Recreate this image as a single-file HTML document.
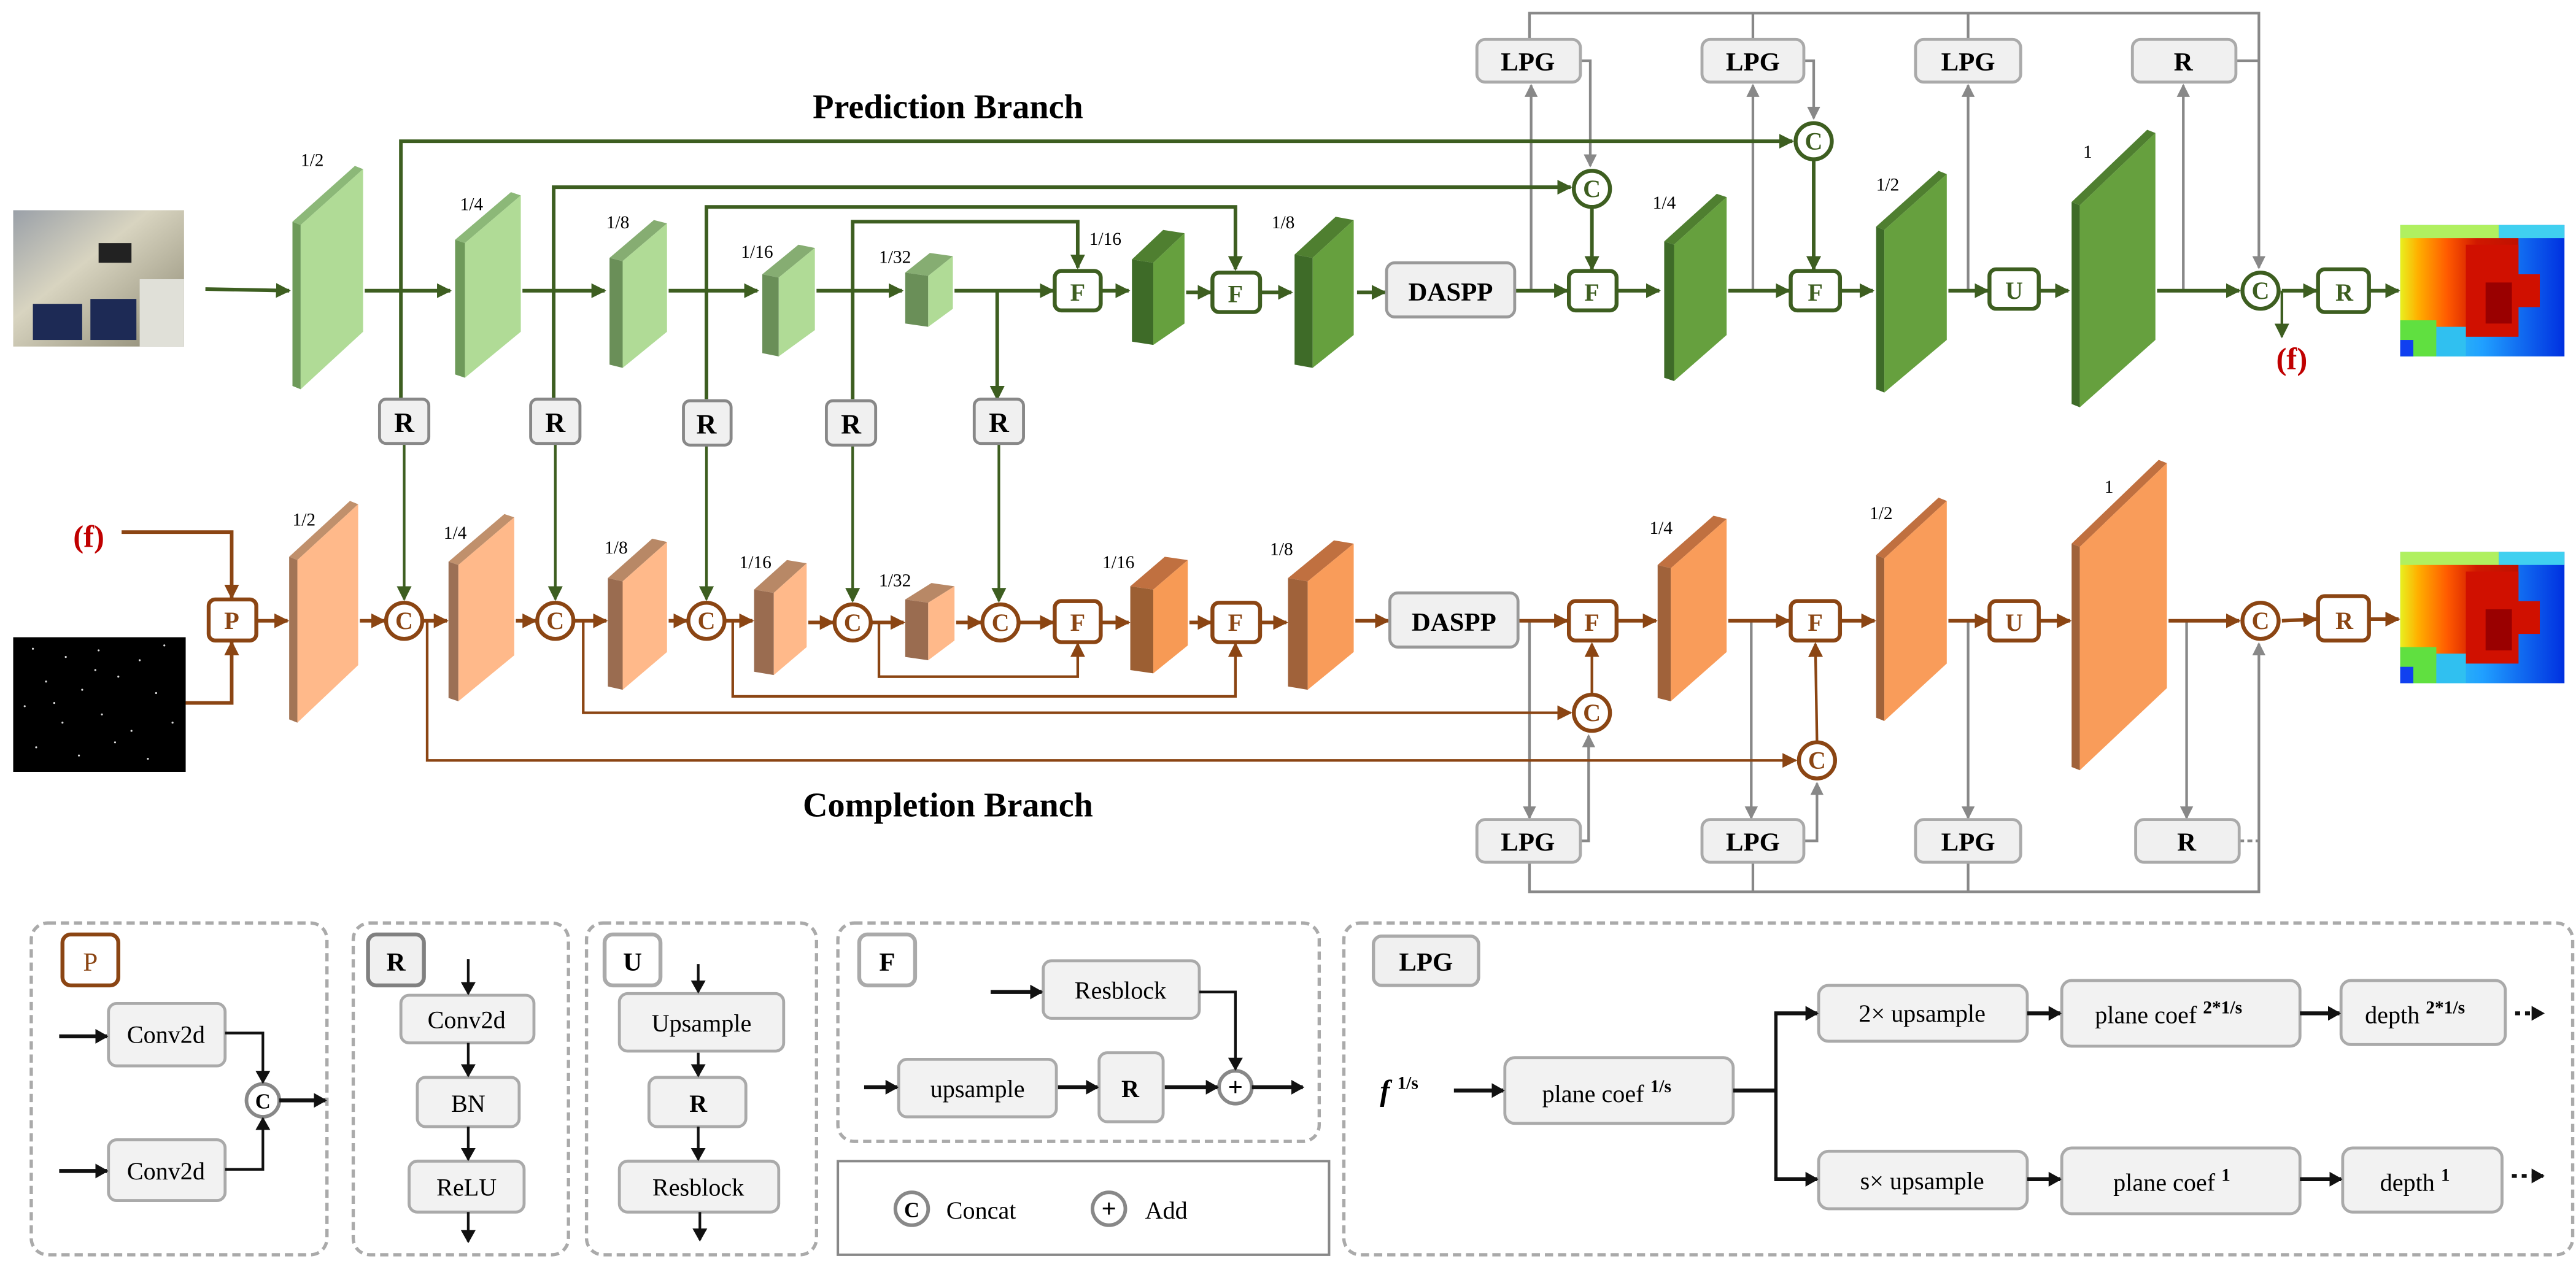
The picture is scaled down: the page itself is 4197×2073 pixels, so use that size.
<!DOCTYPE html>
<html><head><meta charset="utf-8"><style>html,body{margin:0;padding:0;background:#fff}svg{display:block}</style></head><body>
<svg width="4197" height="2073" viewBox="0 0 1568 774.5" xmlns="http://www.w3.org/2000/svg" font-family="Liberation Serif, serif">
<defs>
<marker id="ag" markerWidth="9" markerHeight="9" refX="8" refY="4.5" orient="auto" markerUnits="userSpaceOnUse"><path d="M0,0 L9,4.5 L0,9 z" fill="#3d5e20"/></marker>
<marker id="ab" markerWidth="9" markerHeight="9" refX="8" refY="4.5" orient="auto" markerUnits="userSpaceOnUse"><path d="M0,0 L9,4.5 L0,9 z" fill="#8b4513"/></marker>
<marker id="ay" markerWidth="8" markerHeight="8" refX="7" refY="4" orient="auto" markerUnits="userSpaceOnUse"><path d="M0,0 L8,4 L0,8 z" fill="#888"/></marker>
<marker id="ak" markerWidth="8" markerHeight="9" refX="7" refY="4.5" orient="auto" markerUnits="userSpaceOnUse"><path d="M0,0 L8,4.5 L0,9 z" fill="#111"/></marker>
<linearGradient id="dep" x1="0" x2="1" y1="0" y2="0"><stop offset="0" stop-color="#e8f020"/><stop offset="0.15" stop-color="#ffb000"/><stop offset="0.4" stop-color="#ff5a00"/><stop offset="0.65" stop-color="#d01800"/><stop offset="1" stop-color="#c01000"/></linearGradient>
<linearGradient id="depr" x1="0" x2="1" y1="0" y2="0"><stop offset="0" stop-color="#40e0e0"/><stop offset="0.5" stop-color="#20a0ff"/><stop offset="1" stop-color="#0030e0"/></linearGradient>
<linearGradient id="room" x1="0" x2="1" y1="0" y2="1"><stop offset="0" stop-color="#9aa0a8"/><stop offset="0.4" stop-color="#d8d4c0"/><stop offset="1" stop-color="#8a8670"/></linearGradient>
<g id="depth">
<rect x="0" y="0" width="100" height="80" fill="url(#depr)"/>
<rect x="0" y="6" width="72" height="62" fill="url(#dep)"/>
<rect x="0" y="0" width="60" height="8" fill="#b0f060"/>
<rect x="60" y="0" width="40" height="8" fill="#40d0f0"/>
<polygon points="40,12 72,12 72,30 85,30 85,50 72,50 72,68 40,68" fill="#d01000"/>
<rect x="52" y="35" width="16" height="25" fill="#9a0000"/>
<rect x="0" y="58" width="22" height="22" fill="#60e040"/>
<rect x="0" y="70" width="8" height="10" fill="#1040f0"/>
<rect x="22" y="62" width="18" height="18" fill="#30c0f0"/>
</g>
</defs>

<text x="577" y="72" font-size="21" font-weight="bold" text-anchor="middle">Prediction Branch</text>
<text x="577" y="497" font-size="21" font-weight="bold" text-anchor="middle">Completion Branch</text>

<rect x="8" y="128" width="104" height="83" fill="url(#room)"/>
<rect x="60" y="148" width="20" height="12" fill="#222"/>
<rect x="20" y="185" width="30" height="22" fill="#1d2a55"/>
<rect x="55" y="182" width="28" height="25" fill="#1d2a55"/>
<rect x="85" y="170" width="27" height="41" fill="#e0e0d8"/>
<rect x="8" y="388" width="105" height="82" fill="#000"/>
<g fill="#ddd">
<circle cx="20" cy="395" r="0.6"/><circle cx="40" cy="400" r="0.6"/><circle cx="60" cy="396" r="0.6"/><circle cx="85" cy="402" r="0.6"/><circle cx="100" cy="393" r="0.6"/>
<circle cx="28" cy="415" r="0.6"/><circle cx="50" cy="420" r="0.6"/><circle cx="72" cy="412" r="0.6"/><circle cx="95" cy="422" r="0.6"/><circle cx="15" cy="430" r="0.6"/>
<circle cx="38" cy="440" r="0.6"/><circle cx="62" cy="435" r="0.6"/><circle cx="80" cy="445" r="0.6"/><circle cx="105" cy="440" r="0.6"/><circle cx="22" cy="455" r="0.6"/>
<circle cx="48" cy="460" r="0.6"/><circle cx="70" cy="452" r="0.6"/><circle cx="90" cy="462" r="0.6"/><circle cx="58" cy="408" r="0.6"/><circle cx="33" cy="428" r="0.6"/>
</g>

<use href="#depth" x="1461" y="137"/>
<use href="#depth" x="1461" y="336"/>

<g stroke="#888" stroke-width="1.6" fill="none">
<polyline points="931,24 931,8 1375,8 1375,163" marker-end="url(#ay)"/>
<line x1="1067" y1="8" x2="1067" y2="24"/><line x1="1198" y1="8" x2="1198" y2="24"/>
<line x1="1361" y1="37" x2="1375" y2="37"/>
<polyline points="962,37 968,37 968,101" marker-end="url(#ay)"/>
<polyline points="1098,37 1104,37 1104,72" marker-end="url(#ay)"/>
<line x1="932" y1="177" x2="932" y2="52" marker-end="url(#ay)"/>
<line x1="1067" y1="177" x2="1067" y2="52" marker-end="url(#ay)"/>
<line x1="1198" y1="177" x2="1198" y2="52" marker-end="url(#ay)"/>
<line x1="1329" y1="177" x2="1329" y2="52" marker-end="url(#ay)"/>
<line x1="931" y1="378" x2="931" y2="498" marker-end="url(#ay)"/>
<line x1="1066" y1="378" x2="1066" y2="498" marker-end="url(#ay)"/>
<line x1="1198" y1="378" x2="1198" y2="498" marker-end="url(#ay)"/>
<line x1="1331" y1="378" x2="1331" y2="498" marker-end="url(#ay)"/>
<polyline points="962,512 967,512 967,448" marker-end="url(#ay)"/>
<polyline points="1098,512 1106,512 1106,477" marker-end="url(#ay)"/>
<line x1="1363" y1="512" x2="1375" y2="512" stroke-dasharray="3,2"/>
<polyline points="931,525 931,543 1375,543 1375,392" marker-end="url(#ay)"/>
<line x1="1067" y1="525" x2="1067" y2="543"/><line x1="1198" y1="525" x2="1198" y2="543"/>
</g>

<g stroke="#3d5e20" stroke-width="2.2" fill="none">
<line x1="125" y1="176" x2="176" y2="177" marker-end="url(#ag)"/>
<line x1="222" y1="177" x2="274" y2="177" marker-end="url(#ag)"/>
<line x1="318" y1="177" x2="368" y2="177" marker-end="url(#ag)"/>
<line x1="407" y1="177" x2="461" y2="177" marker-end="url(#ag)"/>
<line x1="497" y1="177" x2="549" y2="177" marker-end="url(#ag)"/>
<line x1="581" y1="177" x2="641" y2="177" marker-end="url(#ag)"/>
<line x1="671" y1="177" x2="687" y2="177" marker-end="url(#ag)"/>
<line x1="722" y1="178" x2="737" y2="178" marker-end="url(#ag)"/>
<line x1="768" y1="178" x2="786" y2="178" marker-end="url(#ag)"/>
<line x1="826" y1="178" x2="843" y2="178" marker-end="url(#ag)"/>
<line x1="922" y1="177" x2="954" y2="177" marker-end="url(#ag)"/>
<line x1="985" y1="177" x2="1010" y2="177" marker-end="url(#ag)"/>
<line x1="1052" y1="177" x2="1089" y2="177" marker-end="url(#ag)"/>
<line x1="1121" y1="177" x2="1140" y2="177" marker-end="url(#ag)"/>
<line x1="1186" y1="177" x2="1210" y2="177" marker-end="url(#ag)"/>
<line x1="1242" y1="177" x2="1259" y2="177" marker-end="url(#ag)"/>
<line x1="1313" y1="177" x2="1363" y2="177" marker-end="url(#ag)"/>
<line x1="1389" y1="177" x2="1410" y2="177" marker-end="url(#ag)"/>
<line x1="1443" y1="177" x2="1460" y2="177" marker-end="url(#ag)"/>
<line x1="1389" y1="177" x2="1389" y2="205" stroke-width="1.6" marker-end="url(#ag)"/>
<polyline points="244,243 244,86 1091,86" marker-end="url(#ag)"/>
<polyline points="337,243 337,114 956,114" marker-end="url(#ag)"/>
<polyline points="430,243 430,126 752,126 752,164" marker-end="url(#ag)"/>
<polyline points="519,243 519,135 656,135 656,163" marker-end="url(#ag)"/>
<line x1="607" y1="177" x2="607" y2="243" marker-end="url(#ag)"/>
<line x1="969" y1="127" x2="969" y2="164" marker-end="url(#ag)"/>
<line x1="1104" y1="98" x2="1104" y2="164" marker-end="url(#ag)"/>
<g stroke-width="1.6">
<line x1="246" y1="270" x2="246" y2="365" marker-end="url(#ag)"/>
<line x1="338" y1="270" x2="338" y2="365" marker-end="url(#ag)"/>
<line x1="430" y1="270" x2="430" y2="365" marker-end="url(#ag)"/>
<line x1="519" y1="270" x2="519" y2="366" marker-end="url(#ag)"/>
<line x1="608" y1="270" x2="608" y2="366" marker-end="url(#ag)"/>
</g>
</g>

<g stroke="#8b4513" stroke-width="2.2" fill="none">
<polyline points="74,324 141,324 141,364" marker-end="url(#ab)"/>
<polyline points="113,428 141,428 141,391" marker-end="url(#ab)"/>
<line x1="157" y1="378" x2="175" y2="378" marker-end="url(#ab)"/>
<line x1="219" y1="378" x2="234" y2="378" marker-end="url(#ab)"/>
<line x1="258" y1="378" x2="272" y2="378" marker-end="url(#ab)"/>
<line x1="314" y1="378" x2="326" y2="378" marker-end="url(#ab)"/>
<line x1="350" y1="378" x2="369" y2="378" marker-end="url(#ab)"/>
<line x1="407" y1="378" x2="418" y2="378" marker-end="url(#ab)"/>
<line x1="442" y1="378" x2="458" y2="378" marker-end="url(#ab)"/>
<line x1="492" y1="379" x2="507" y2="379" marker-end="url(#ab)"/>
<line x1="531" y1="379" x2="550" y2="379" marker-end="url(#ab)"/>
<line x1="582" y1="379" x2="597" y2="379" marker-end="url(#ab)"/>
<line x1="621" y1="379" x2="641" y2="379" marker-end="url(#ab)"/>
<line x1="671" y1="379" x2="687" y2="379" marker-end="url(#ab)"/>
<line x1="724" y1="379" x2="737" y2="379" marker-end="url(#ab)"/>
<line x1="768" y1="379" x2="783" y2="379" marker-end="url(#ab)"/>
<line x1="825" y1="378" x2="845" y2="378" marker-end="url(#ab)"/>
<line x1="924" y1="378" x2="954" y2="378" marker-end="url(#ab)"/>
<line x1="985" y1="378" x2="1008" y2="378" marker-end="url(#ab)"/>
<line x1="1052" y1="378" x2="1089" y2="378" marker-end="url(#ab)"/>
<line x1="1121" y1="378" x2="1141" y2="378" marker-end="url(#ab)"/>
<line x1="1186" y1="378" x2="1210" y2="378" marker-end="url(#ab)"/>
<line x1="1242" y1="378" x2="1260" y2="378" marker-end="url(#ab)"/>
<line x1="1320" y1="378" x2="1363" y2="378" marker-end="url(#ab)"/>
<line x1="1389" y1="378" x2="1410" y2="377" marker-end="url(#ab)"/>
<line x1="1443" y1="377" x2="1460" y2="377" marker-end="url(#ab)"/>
<g stroke-width="1.6">
<polyline points="535,379 535,412 656,412 656,392" marker-end="url(#ab)"/>
<polyline points="446,378 446,424 752,424 752,392" marker-end="url(#ab)"/>
<polyline points="355,378 355,434 956,434" marker-end="url(#ab)"/>
<polyline points="260,378 260,463 1093,463" marker-end="url(#ab)"/>
<line x1="969" y1="422" x2="969" y2="392" marker-end="url(#ab)"/>
<line x1="1106" y1="451" x2="1105" y2="392" marker-end="url(#ab)"/>
</g>
</g>

<g>
<polygon points="178,135 216,101 221,103 183,137" fill="#8cb878"/><polygon points="178,135 183,137 183,237 178,235" fill="#6e9a5a"/><polygon points="183,137 221,103 221,202 183,237" fill="#b0db96"/>
<polygon points="277,146 311,117 317,119 283,148" fill="#8cb878"/><polygon points="277,146 283,148 283,230 277,228" fill="#6e9a5a"/><polygon points="283,148 317,119 317,202 283,230" fill="#b0db96"/>
<polygon points="371,157 398,134 406,136 379,159" fill="#86ad72"/><polygon points="371,157 379,159 379,224 371,222" fill="#6a8f58"/><polygon points="379,159 406,136 406,202 379,224" fill="#b0db96"/>
<polygon points="464,167 486,149 496,151 474,169" fill="#86ad72"/><polygon points="464,167 474,169 474,217 464,215" fill="#6a8f58"/><polygon points="474,169 496,151 496,201 474,217" fill="#b0db96"/>
<polygon points="551,166 566,154 580,156 565,168" fill="#86ad72"/><polygon points="551,166 565,168 565,199 551,197" fill="#6a8f58"/><polygon points="565,168 580,156 580,188 565,199" fill="#b0db96"/>
<polygon points="689,158 708,140 721,142 702,160" fill="#4f7f30"/><polygon points="689,158 702,160 702,210 689,208" fill="#3e6b28"/><polygon points="702,160 721,142 721,197 702,210" fill="#66a03e"/>
<polygon points="788,155 813,132 824,134 799,157" fill="#4f7f30"/><polygon points="788,155 799,157 799,224 788,222" fill="#3e6b28"/><polygon points="799,157 824,134 824,204 799,224" fill="#66a03e"/>
<polygon points="1013,147 1045,118 1051,120 1019,149" fill="#4f7f30"/><polygon points="1013,147 1019,149 1019,232 1013,230" fill="#3e6b28"/><polygon points="1019,149 1051,120 1051,204 1019,232" fill="#66a03e"/>
<polygon points="1142,138 1180,104 1185,106 1147,140" fill="#4f7f30"/><polygon points="1142,138 1147,140 1147,239 1142,237" fill="#3e6b28"/><polygon points="1147,140 1185,106 1185,207 1147,239" fill="#66a03e"/>
<polygon points="1261,123 1307,79 1312,81 1266,125" fill="#4f7f30"/><polygon points="1261,123 1266,125 1266,248 1261,246" fill="#3e6b28"/><polygon points="1266,125 1312,81 1312,207 1266,248" fill="#66a03e"/>
<polygon points="176,339 213,305 218,307 181,341" fill="#c0906c"/><polygon points="176,339 181,341 181,440 176,438" fill="#a37556"/><polygon points="181,341 218,307 218,405 181,440" fill="#ffb98a"/>
<polygon points="273,342 307,313 313,315 279,344" fill="#c0906c"/><polygon points="273,342 279,344 279,427 273,425" fill="#9c7055"/><polygon points="279,344 313,315 313,399 279,427" fill="#ffb98a"/>
<polygon points="370,352 397,328 406,330 379,354" fill="#b88866"/><polygon points="370,352 379,354 379,420 370,418" fill="#9a6c50"/><polygon points="379,354 406,330 406,397 379,420" fill="#ffb98a"/>
<polygon points="459,359 479,341 491,343 471,361" fill="#b88866"/><polygon points="459,359 471,361 471,411 459,409" fill="#9a6c50"/><polygon points="471,361 491,343 491,394 471,411" fill="#ffb98a"/>
<polygon points="551,365 567,355 581,357 565,367" fill="#b88866"/><polygon points="551,365 565,367 565,402 551,400" fill="#9a6c50"/><polygon points="565,367 581,357 581,390 565,402" fill="#ffb98a"/>
<polygon points="688,357 709,339 723,341 702,359" fill="#c07040"/><polygon points="688,357 702,359 702,410 688,408" fill="#9c5f33"/><polygon points="702,359 723,341 723,393 702,410" fill="#f79a55"/>
<polygon points="784,352 812,329 824,331 796,354" fill="#c07040"/><polygon points="784,352 796,354 796,420 784,418" fill="#a0623a"/><polygon points="796,354 824,331 824,397 796,420" fill="#f99c5a"/>
<polygon points="1009,344 1043,314 1051,316 1017,346" fill="#c07040"/><polygon points="1009,344 1017,346 1017,427 1009,425" fill="#a0623a"/><polygon points="1017,346 1051,316 1051,397 1017,427" fill="#f99c5a"/>
<polygon points="1142,338 1180,303 1185,305 1147,340" fill="#c07040"/><polygon points="1142,338 1147,340 1147,439 1142,437" fill="#a0623a"/><polygon points="1147,340 1185,305 1185,404 1147,439" fill="#f99c5a"/>
<polygon points="1261,331 1314,280 1319,282 1266,333" fill="#c07040"/><polygon points="1261,331 1266,333 1266,469 1261,467" fill="#a0623a"/><polygon points="1266,333 1319,282 1319,419 1266,469" fill="#f99c5a"/>
</g>

<g font-size="11">
<text x="183" y="101">1/2</text><text x="280" y="128">1/4</text><text x="369" y="139">1/8</text><text x="451" y="157">1/16</text><text x="535" y="160">1/32</text><text x="663" y="149">1/16</text><text x="774" y="139">1/8</text><text x="1006" y="127">1/4</text><text x="1142" y="116">1/2</text><text x="1268" y="96">1</text>
<text x="178" y="320">1/2</text><text x="270" y="328">1/4</text><text x="368" y="337">1/8</text><text x="450" y="346">1/16</text><text x="535" y="357">1/32</text><text x="671" y="346">1/16</text><text x="773" y="338">1/8</text><text x="1004" y="325">1/4</text><text x="1138" y="316">1/2</text><text x="1281" y="300">1</text>
</g>

<g fill="#f0f0f0" stroke="#888" stroke-width="1.8">
<rect x="231" y="243" width="30" height="27" rx="4"/><rect x="323" y="243" width="30" height="27" rx="4"/><rect x="416" y="244" width="29" height="27" rx="4"/><rect x="503" y="244" width="30" height="27" rx="4"/><rect x="593" y="243" width="30" height="27" rx="4"/>
</g>
<g font-size="17" font-weight="bold" text-anchor="middle">
<text x="246" y="263">R</text><text x="338" y="263">R</text><text x="430" y="264">R</text><text x="518" y="264">R</text><text x="608" y="263">R</text>
</g>

<g fill="#f0f0f0" stroke="#aaa" stroke-width="1.8">
<rect x="899" y="24" width="63" height="26" rx="5"/><rect x="1036" y="24" width="62" height="26" rx="5"/><rect x="1166" y="24" width="64" height="26" rx="5"/><rect x="1298" y="24" width="63" height="26" rx="5"/>
<rect x="899" y="499" width="63" height="26" rx="5"/><rect x="1036" y="499" width="62" height="26" rx="5"/><rect x="1166" y="499" width="64" height="26" rx="5"/><rect x="1300" y="499" width="63" height="26" rx="5"/>
<rect x="844" y="160" width="78" height="33" rx="5" stroke="#999"/><rect x="846" y="361" width="78" height="33" rx="5" stroke="#999"/>
</g>
<g font-size="16" font-weight="bold" text-anchor="middle">
<text x="930" y="43">LPG</text><text x="1067" y="43">LPG</text><text x="1198" y="43">LPG</text><text x="1329" y="43">R</text>
<text x="930" y="518">LPG</text><text x="1067" y="518">LPG</text><text x="1198" y="518">LPG</text><text x="1331" y="518">R</text>
<text x="883" y="183">DASPP</text><text x="885" y="384">DASPP</text>
</g>

<g fill="#fff" stroke="#3d5e20" stroke-width="2.4">
<rect x="642" y="165" width="28" height="24" rx="4"/><rect x="738" y="166" width="29" height="24" rx="4"/><rect x="955" y="165" width="29" height="24" rx="4"/><rect x="1090" y="165" width="30" height="24" rx="4"/><rect x="1211" y="164" width="30" height="24" rx="4"/><rect x="1411" y="164" width="31" height="26" rx="4"/>
<circle cx="969" cy="115" r="11"/><circle cx="1104" cy="86" r="11"/><circle cx="1376" cy="177" r="11"/>
</g>
<g font-size="15" font-weight="bold" text-anchor="middle" fill="#3d5e20">
<text x="656" y="183">F</text><text x="752" y="184">F</text><text x="969" y="183">F</text><text x="1105" y="183">F</text><text x="1226" y="182">U</text><text x="1427" y="183">R</text>
<text x="969" y="120">C</text><text x="1104" y="91">C</text><text x="1376" y="182">C</text>
</g>

<g fill="#fff" stroke="#8b4513" stroke-width="2.4">
<rect x="127" y="365" width="29" height="25" rx="4"/>
<rect x="642" y="366" width="28" height="25" rx="4"/><rect x="738" y="367" width="29" height="24" rx="4"/><rect x="955" y="366" width="29" height="24" rx="4"/><rect x="1090" y="366" width="30" height="24" rx="4"/><rect x="1211" y="366" width="30" height="24" rx="4"/><rect x="1411" y="363" width="31" height="27" rx="4"/>
<circle cx="246" cy="378" r="11"/><circle cx="338" cy="378" r="11"/><circle cx="430" cy="378" r="11"/><circle cx="519" cy="379" r="11"/><circle cx="609" cy="379" r="11"/>
<circle cx="969" cy="434" r="11"/><circle cx="1106" cy="463" r="11"/><circle cx="1376" cy="378" r="11"/>
</g>
<g font-size="15" font-weight="bold" text-anchor="middle" fill="#8b4513">
<text x="141" y="383">P</text>
<text x="656" y="384">F</text><text x="752" y="384">F</text><text x="969" y="384">F</text><text x="1105" y="384">F</text><text x="1226" y="384">U</text><text x="1427" y="383">R</text>
<text x="246" y="383">C</text><text x="338" y="383">C</text><text x="430" y="383">C</text><text x="519" y="384">C</text><text x="609" y="384">C</text>
<text x="969" y="439">C</text><text x="1106" y="468">C</text><text x="1376" y="383">C</text>
</g>

<text x="54" y="333" font-size="19" font-weight="bold" fill="#c00000" text-anchor="middle">(f)</text>
<text x="1395" y="225" font-size="19" font-weight="bold" fill="#c00000" text-anchor="middle">(f)</text>

<g fill="none" stroke="#aaa" stroke-width="2" stroke-dasharray="5,3">
<rect x="19" y="562" width="180" height="202" rx="10"/>
<rect x="215" y="562" width="131" height="202" rx="10"/>
<rect x="357" y="562" width="140" height="202" rx="10"/>
<rect x="510" y="562" width="293" height="133" rx="10"/>
<rect x="818" y="562" width="748" height="202" rx="10"/>
</g>
<rect x="510" y="707" width="299" height="57" fill="none" stroke="#888" stroke-width="1.5"/>

<rect x="38" y="569" width="34" height="31" rx="5" fill="#fff" stroke="#8b4513" stroke-width="2.4"/>
<text x="55" y="591" font-size="16" fill="#8b4513" text-anchor="middle">P</text>
<rect x="224" y="569" width="34" height="31" rx="5" fill="#f0f0f0" stroke="#808080" stroke-width="2.4"/>
<text x="241" y="591" font-size="16" font-weight="bold" text-anchor="middle">R</text>
<rect x="368" y="569" width="34" height="31" rx="5" fill="#fff" stroke="#aaa" stroke-width="2.4"/>
<text x="385" y="591" font-size="16" font-weight="bold" text-anchor="middle">U</text>
<rect x="523" y="569" width="34" height="31" rx="5" fill="#fff" stroke="#aaa" stroke-width="2.4"/>
<text x="540" y="591" font-size="16" font-weight="bold" text-anchor="middle">F</text>
<rect x="836" y="570" width="64" height="30" rx="5" fill="#f0f0f0" stroke="#aaa" stroke-width="2"/>
<text x="868" y="591" font-size="16" font-weight="bold" text-anchor="middle">LPG</text>

<g fill="#f2f2f2" stroke="#aaa" stroke-width="1.8">
<rect x="66" y="611" width="71" height="38" rx="5"/><rect x="66" y="694" width="71" height="37" rx="5"/>
<rect x="244" y="606" width="81" height="29" rx="5"/><rect x="254" y="656" width="62" height="30" rx="5"/><rect x="249" y="707" width="70" height="31" rx="5"/>
<rect x="377" y="605" width="100" height="35" rx="5"/><rect x="395" y="656" width="59" height="30" rx="5"/><rect x="377" y="707" width="97" height="31" rx="5"/>
<rect x="635" y="585" width="95" height="35" rx="5"/><rect x="547" y="645" width="96" height="35" rx="5"/><rect x="669" y="641" width="39" height="42" rx="5"/>
<rect x="916" y="644" width="139" height="40" rx="6"/>
<rect x="1107" y="600" width="127" height="34" rx="6"/><rect x="1255" y="597" width="145" height="40" rx="6"/><rect x="1425" y="597" width="100" height="39" rx="6"/>
<rect x="1107" y="701" width="127" height="35" rx="6"/><rect x="1255" y="699" width="145" height="40" rx="6"/><rect x="1426" y="699" width="97" height="39" rx="6"/>
</g>
<g fill="#fff" stroke="#888" stroke-width="2.2">
<circle cx="160" cy="670" r="10"/><circle cx="752" cy="662" r="10"/><circle cx="555" cy="736" r="10"/><circle cx="675" cy="736" r="10"/>
</g>
<g font-size="15" text-anchor="middle">
<text x="101" y="635">Conv2d</text><text x="101" y="718">Conv2d</text>
<text x="284" y="626">Conv2d</text><text x="285" y="677">BN</text><text x="284" y="728">ReLU</text>
<text x="427" y="628">Upsample</text><text x="425" y="677" font-weight="bold">R</text><text x="425" y="728">Resblock</text>
<text x="682" y="608">Resblock</text><text x="595" y="668">upsample</text><text x="688" y="668" font-weight="bold">R</text>
<text x="160" y="675" font-size="13" font-weight="bold">C</text><text x="752" y="667" font-size="16" font-weight="bold">+</text>
<text x="555" y="741" font-size="13" font-weight="bold">C</text><text x="675" y="741" font-size="16" font-weight="bold">+</text>
</g>
<text x="576" y="742" font-size="15">Concat</text>
<text x="697" y="742" font-size="15">Add</text>
<g font-size="15" text-anchor="middle">
<text x="978" y="671">plane coef <tspan font-size="11" font-weight="bold" dy="-6">1/s</tspan></text>
<text x="1170" y="622">2× upsample</text>
<text x="1320" y="623">plane coef <tspan font-size="11" font-weight="bold" dy="-6">2*1/s</tspan></text>
<text x="1470" y="623">depth <tspan font-size="11" font-weight="bold" dy="-6">2*1/s</tspan></text>
<text x="1170" y="724">s× upsample</text>
<text x="1322" y="725">plane coef <tspan font-size="11" font-weight="bold" dy="-6">1</tspan></text>
<text x="1470" y="725">depth <tspan font-size="11" font-weight="bold" dy="-6">1</tspan></text>
</g>
<text x="840" y="670" font-size="18" font-style="italic" font-weight="bold">f <tspan font-size="11" font-style="normal" dy="-7">1/s</tspan></text>

<g stroke="#111" stroke-width="1.6" fill="none">
<line x1="36" y1="631" x2="65" y2="631" stroke-width="2.4" marker-end="url(#ak)"/>
<line x1="36" y1="713" x2="65" y2="713" stroke-width="2.4" marker-end="url(#ak)"/>
<polyline points="137,629 160,629 160,659" marker-end="url(#ak)"/>
<polyline points="137,712 160,712 160,681" marker-end="url(#ak)"/>
<line x1="170" y1="670" x2="198" y2="670" stroke-width="2.4" marker-end="url(#ak)"/>
<line x1="285" y1="584" x2="285" y2="605" marker-end="url(#ak)"/>
<line x1="285" y1="635" x2="285" y2="655" marker-end="url(#ak)"/>
<line x1="285" y1="686" x2="285" y2="706" marker-end="url(#ak)"/>
<line x1="285" y1="738" x2="285" y2="756" marker-end="url(#ak)"/>
<line x1="425" y1="587" x2="425" y2="604" marker-end="url(#ak)"/>
<line x1="425" y1="641" x2="425" y2="655" marker-end="url(#ak)"/>
<line x1="425" y1="686" x2="425" y2="706" marker-end="url(#ak)"/>
<line x1="426" y1="738" x2="426" y2="755" marker-end="url(#ak)"/>
<line x1="603" y1="604" x2="634" y2="604" stroke-width="2.4" marker-end="url(#ak)"/>
<polyline points="730,604 752,604 752,651" marker-end="url(#ak)"/>
<line x1="526" y1="662" x2="546" y2="662" stroke-width="2.4" marker-end="url(#ak)"/>
<line x1="644" y1="662" x2="668" y2="662" stroke-width="2.4" marker-end="url(#ak)"/>
<line x1="709" y1="662" x2="741" y2="662" stroke-width="2.4" marker-end="url(#ak)"/>
<line x1="762" y1="662" x2="793" y2="662" stroke-width="2.4" marker-end="url(#ak)"/>
<line x1="885" y1="664" x2="915" y2="664" stroke-width="2.4" marker-end="url(#ak)"/>
<line x1="1055" y1="664" x2="1081" y2="664" stroke-width="2.4"/>
<polyline points="1081,617 1081,718" stroke-width="2"/>
<line x1="1080" y1="617" x2="1106" y2="617" stroke-width="2.4" marker-end="url(#ak)"/>
<line x1="1080" y1="718" x2="1106" y2="718" stroke-width="2.4" marker-end="url(#ak)"/>
<line x1="1234" y1="617" x2="1254" y2="617" stroke-width="2.4" marker-end="url(#ak)"/>
<line x1="1400" y1="617" x2="1424" y2="617" stroke-width="2.4" marker-end="url(#ak)"/>
<line x1="1234" y1="718" x2="1254" y2="718" stroke-width="2.4" marker-end="url(#ak)"/>
<line x1="1400" y1="718" x2="1425" y2="718" stroke-width="2.4" marker-end="url(#ak)"/>
<line x1="1531" y1="617" x2="1548" y2="617" stroke-width="2.4" stroke-dasharray="3,3" marker-end="url(#ak)"/>
<line x1="1529" y1="716" x2="1548" y2="716" stroke-width="2.4" stroke-dasharray="3,3" marker-end="url(#ak)"/>
</g>
</svg>
</body></html>
